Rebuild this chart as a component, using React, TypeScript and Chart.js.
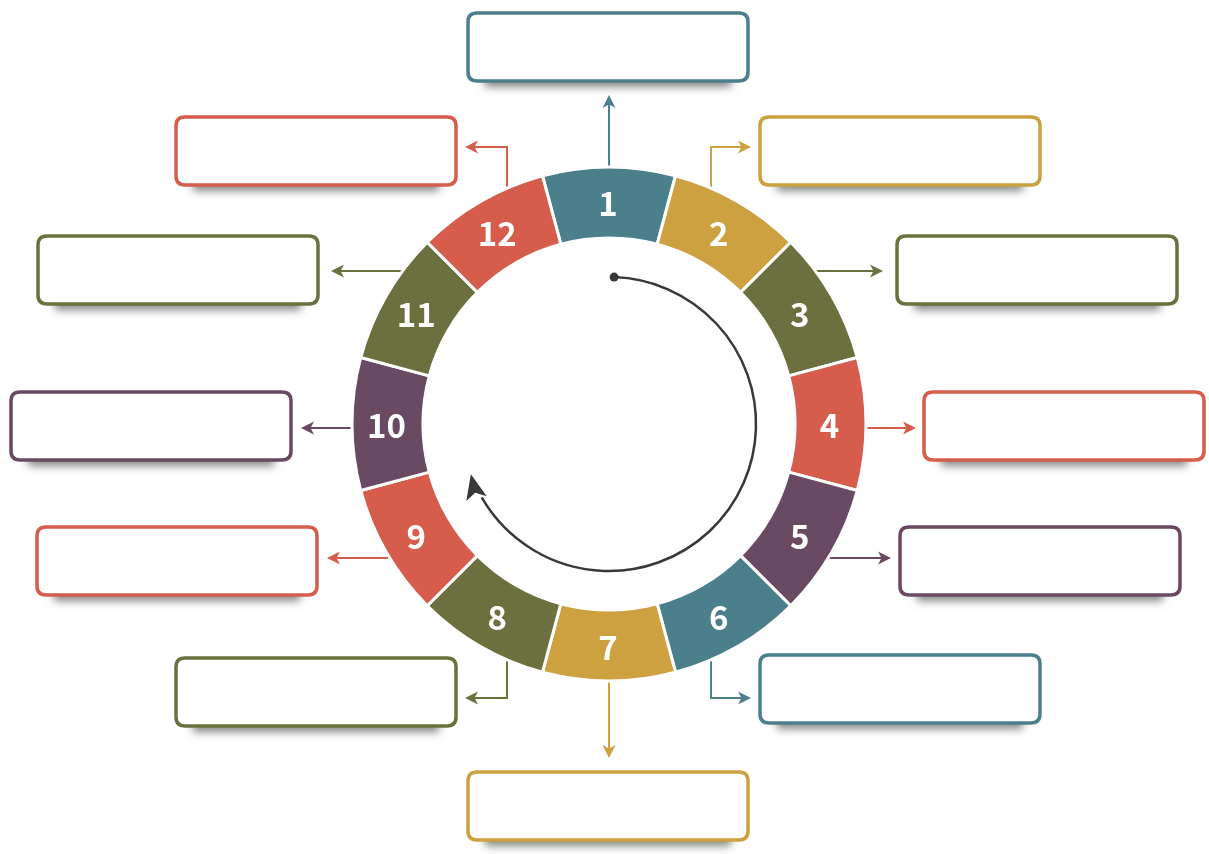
import React, { useEffect, useRef } from 'react';
import { Chart, registerables } from 'chart.js';

Chart.register(...registerables);

// ---- data ----
const stepLabels = ['1', '2', '3', '4', '5', '6', '7', '8', '9', '10', '11', '12'];
const stepValues = [1, 1, 1, 1, 1, 1, 1, 1, 1, 1, 1, 1];
const TEAL = '#4a7f8b';
const GOLD = '#cda040';
const OLIVE = '#6b703e';
const RED = '#d65c4c';
const PURPLE = '#6a4a62';
const stepColors = [TEAL, GOLD, OLIVE, RED, PURPLE, TEAL, GOLD, OLIVE, RED, PURPLE, OLIVE, RED];

// ---- layout (boxes and connectors) ----
const BOX_W = 280;
const BOX_H = 68;
const boxOrigins: [number, number][] = [
  [468, 13], [760, 117], [897, 236], [924, 392], [900, 527], [760, 655],
  [468, 772], [176, 658], [37, 527], [11, 392], [38, 236], [176, 117],
];
type Conn = { x?: number; y?: number; path: [number, number][] };
const connectors: Conn[] = [
  { x: 609, path: [[609, 95]] },
  { x: 711, path: [[711, 147], [751, 147]] },
  { y: 271, path: [[883, 271]] },
  { y: 428, path: [[916, 428]] },
  { y: 558, path: [[891, 558]] },
  { x: 711, path: [[711, 698], [751, 698]] },
  { x: 609, path: [[609, 758]] },
  { x: 507, path: [[507, 698], [465, 698]] },
  { y: 558, path: [[327, 558]] },
  { y: 428, path: [[301, 428]] },
  { y: 271, path: [[331, 271]] },
  { x: 507, path: [[507, 147], [465, 147]] },
];

function arrowHead(ctx: CanvasRenderingContext2D, tx: number, ty: number, ang: number, len: number, half: number, notch: number, color: string) {
  ctx.save();
  ctx.translate(tx, ty);
  ctx.rotate(ang);
  ctx.beginPath();
  ctx.moveTo(0, 0);
  ctx.lineTo(-len, -half);
  ctx.lineTo(-len + notch, 0);
  ctx.lineTo(-len, half);
  ctx.closePath();
  ctx.fillStyle = color;
  ctx.fill();
  ctx.restore();
}

function roundRect(ctx: CanvasRenderingContext2D, x: number, y: number, w: number, h: number, r: number) {
  ctx.beginPath();
  ctx.moveTo(x + r, y);
  ctx.lineTo(x + w - r, y);
  ctx.quadraticCurveTo(x + w, y, x + w, y + r);
  ctx.lineTo(x + w, y + h - r);
  ctx.quadraticCurveTo(x + w, y + h, x + w - r, y + h);
  ctx.lineTo(x + r, y + h);
  ctx.quadraticCurveTo(x, y + h, x, y + h - r);
  ctx.lineTo(x, y + r);
  ctx.quadraticCurveTo(x, y, x + r, y);
  ctx.closePath();
}

const decorPlugin = {
  id: 'decor',
  beforeDatasetsDraw(chart: any) {
    const ctx: CanvasRenderingContext2D = chart.ctx;
    const meta = chart.getDatasetMeta(0);
    const arc0: any = meta.data[0];
    if (!arc0) return;
    const cx = arc0.x;
    const cy = arc0.y;
    const R = arc0.outerRadius;
    // connectors
    connectors.forEach((c, i) => {
      const color = stepColors[i];
      let sx: number, sy: number;
      const first = c.path[0];
      if (c.x !== undefined) {
        const dx = c.x - cx;
        const h = Math.sqrt(Math.max(R * R - dx * dx, 0)) - 6;
        sx = c.x;
        sy = first[1] < cy ? cy - h : cy + h;
      } else {
        const dy = (c.y as number) - cy;
        const w = Math.sqrt(Math.max(R * R - dy * dy, 0)) - 6;
        sy = c.y as number;
        sx = first[0] < cx ? cx - w : cx + w;
      }
      const pts: [number, number][] = [[sx, sy], ...c.path];
      const last = pts[pts.length - 1];
      const prev = pts[pts.length - 2];
      const ang = Math.atan2(last[1] - prev[1], last[0] - prev[0]);
      ctx.save();
      ctx.strokeStyle = color;
      ctx.lineWidth = 2;
      ctx.beginPath();
      ctx.moveTo(pts[0][0], pts[0][1]);
      for (let k = 1; k < pts.length - 1; k++) ctx.lineTo(pts[k][0], pts[k][1]);
      ctx.lineTo(last[0] - Math.cos(ang) * 8, last[1] - Math.sin(ang) * 8);
      ctx.stroke();
      ctx.restore();
      arrowHead(ctx, last[0], last[1], ang, 13, 6.5, 3.5, color);
    });
    // boxes
    boxOrigins.forEach(([bx, by], i) => {
      ctx.save();
      ctx.shadowColor = 'rgba(50,55,50,0.6)';
      ctx.shadowBlur = 8;
      ctx.shadowOffsetY = 8;
      ctx.fillStyle = '#777';
      ctx.fillRect(bx + 17, by + BOX_H - 22, BOX_W - 34, 20);
      ctx.restore();
      ctx.save();
      roundRect(ctx, bx, by, BOX_W, BOX_H, 9);
      ctx.fillStyle = '#ffffff';
      ctx.fill();
      ctx.lineWidth = 3.5;
      ctx.strokeStyle = stepColors[i];
      ctx.stroke();
      ctx.restore();
    });
  },
  afterDatasetsDraw(chart: any) {
    const ctx: CanvasRenderingContext2D = chart.ctx;
    const meta = chart.getDatasetMeta(0);
    const arc0: any = meta.data[0];
    if (!arc0) return;
    const cx = arc0.x;
    const cy = arc0.y;
    // numbers
    ctx.save();
    ctx.fillStyle = '#ffffff';
    ctx.font = 'bold 33px "Noto Sans CJK SC", "Open Sans", sans-serif';
    ctx.textAlign = 'center';
    ctx.textBaseline = 'alphabetic';
    meta.data.forEach((a: any, i: number) => {
      const p = a.tooltipPosition();
      ctx.fillText(stepLabels[i], p.x - 1, p.y + 14);
    });
    ctx.restore();
    // inner circular arrow
    const r = 147;
    const a0 = (-88 * Math.PI) / 180;
    const a1 = (150 * Math.PI) / 180;
    ctx.save();
    ctx.strokeStyle = '#383838';
    ctx.lineWidth = 2.5;
    ctx.beginPath();
    ctx.arc(cx, cy, r, a0, a1, false);
    ctx.stroke();
    ctx.beginPath();
    ctx.arc(cx + r * Math.cos(a0), cy + r * Math.sin(a0), 4.5, 0, Math.PI * 2);
    ctx.fillStyle = '#383838';
    ctx.fill();
    const at = (160 * Math.PI) / 180;
    const tx = cx + r * Math.cos(at);
    const ty = cy + r * Math.sin(at);
    const tangent = at + Math.PI / 2 + 0.12;
    arrowHead(ctx, tx, ty, tangent, 25, 10.5, 6, '#383838');
    ctx.restore();
  },
};

export default function App() {
  const ref = useRef<HTMLCanvasElement | null>(null);
  useEffect(() => {
    document.body.style.margin = '0';
    document.body.style.background = '#ffffff';
    const canvas = ref.current;
    if (!canvas) return;
    const chart = new Chart(canvas, {
      type: 'doughnut',
      data: {
        labels: stepLabels,
        datasets: [
          {
            data: stepValues,
            backgroundColor: stepColors,
            borderColor: '#ffffff',
            borderWidth: 3,
            hoverOffset: 0,
          },
        ],
      },
      options: {
        responsive: false,
        animation: false,
        events: [],
        rotation: -15,
        cutout: '72.4%',
        radius: 257,
        layout: { padding: { left: 351, right: 342, top: 166, bottom: 172 } },
        plugins: { legend: { display: false }, tooltip: { enabled: false } },
      },
      plugins: [decorPlugin],
    } as any);
    return () => chart.destroy();
  }, []);
  return (
    <div style={{ position: 'absolute', left: 0, top: 0, width: 1209, height: 854, background: '#fff' }}>
      <canvas ref={ref} width={1209} height={854} style={{ width: 1209, height: 854, display: 'block' }} />
    </div>
  );
}
